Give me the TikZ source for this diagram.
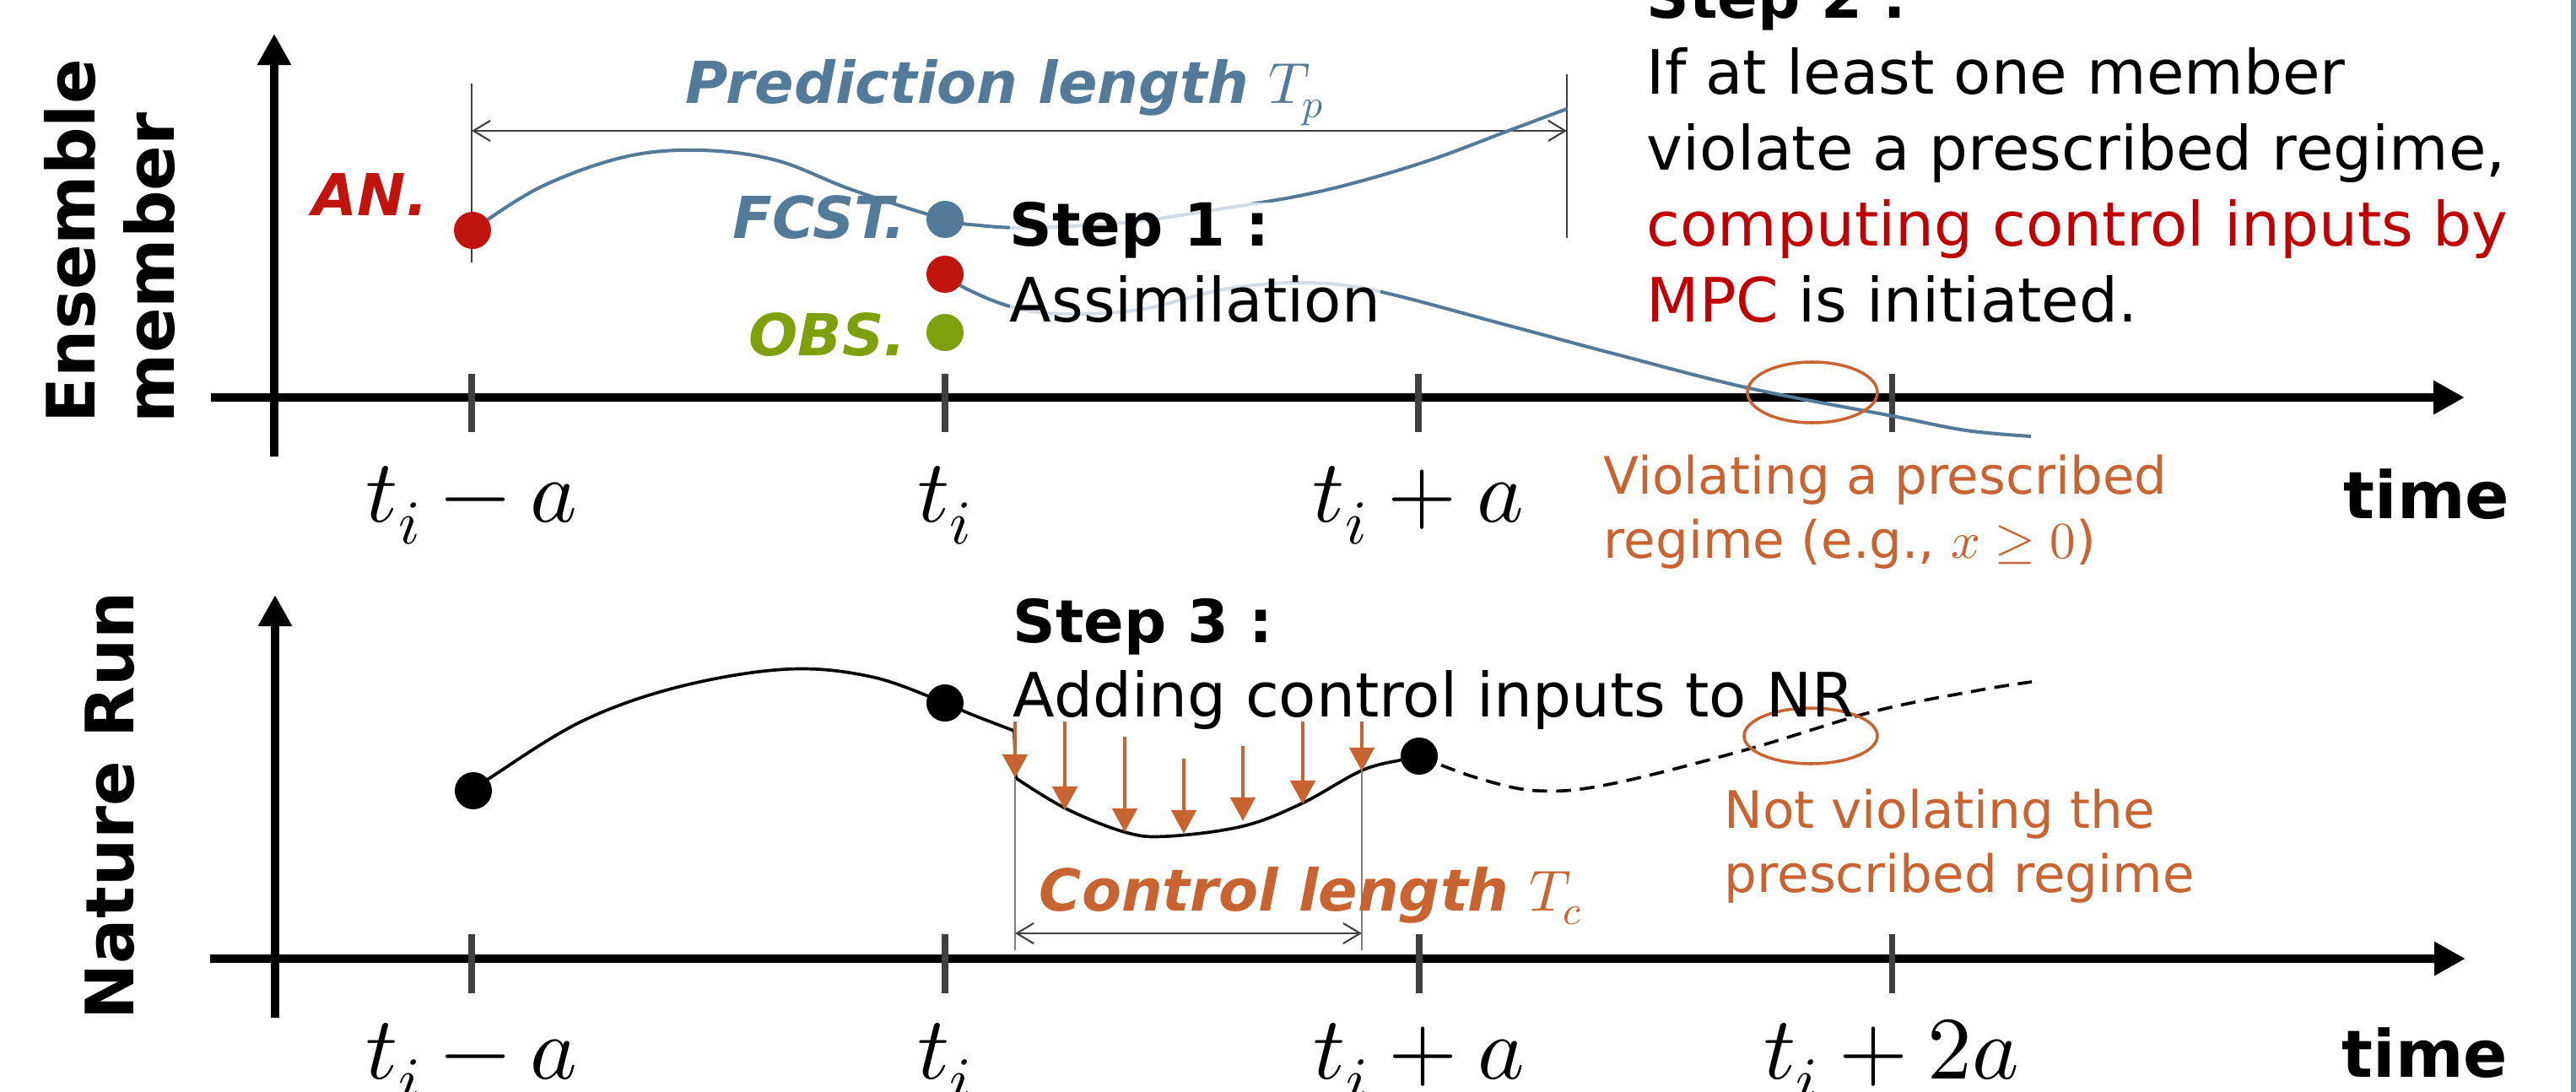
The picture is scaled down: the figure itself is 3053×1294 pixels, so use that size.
\documentclass[tikz,border=0pt]{standalone}
\usepackage{fontspec}
\usepackage{unicode-math}
\setmainfont{DejaVu Sans}
\setmathfont{Latin Modern Math}
\usetikzlibrary{arrows.meta}
\definecolor{fblue}{RGB}{84,122,153}
\definecolor{anred}{RGB}{192,20,15}
\definecolor{txtred}{RGB}{192,0,0}
\definecolor{obsgreen}{RGB}{127,160,10}
\definecolor{orng}{RGB}{200,100,50}
\definecolor{edgecol}{RGB}{102,153,153}
\definecolor{tickgray}{RGB}{64,64,64}
\newcommand\fsBody{\fontsize{20.6pt}{24pt}\selectfont}
\newcommand\fsBold{\fontsize{20pt}{24pt}\selectfont\bfseries}
\newcommand\fsSmall{\fontsize{17.4pt}{21pt}\selectfont}
\newcommand\fsLab{\fontsize{19.5pt}{23pt}\selectfont\bfseries\itshape}
\newcommand\fsAxis{\fontsize{22.5pt}{27pt}\selectfont\bfseries}
\newcommand\fsTime{\fontsize{22pt}{27pt}\selectfont\bfseries}
\newcommand\fsMath{\fontsize{30pt}{36pt}\selectfont}
\begin{document}
\begin{tikzpicture}[x=0.01cm,y=-0.01cm,
  txt/.style={anchor=base west,inner sep=0pt,font=\fsBody},
  boldtxt/.style={anchor=base west,inner sep=0pt,font=\fsBold},
  smalltxt/.style={anchor=base west,inner sep=0pt,font=\fsSmall,text=orng},
  lab/.style={anchor=base west,inner sep=0pt,font=\fsLab},
  ylab/.style={anchor=base west,inner sep=0pt,font=\fsAxis,rotate=90},
  timelab/.style={anchor=base west,inner sep=0pt,font=\fsTime},
  ticklab/.style={anchor=base,inner sep=0pt,font=\fsMath},
  halo/.style={fill=white,fill opacity=0.75,text opacity=1},
  axisline/.style={line width=2.85pt,-{Triangle[length=0.37cm,width=0.38cm]}},
  tickln/.style={line width=2pt,draw=tickgray},
  dimline/.style={line width=0.6pt,draw=tickgray,{Straight Barb[length=0.2cm,width=0.24cm]}-{Straight Barb[length=0.2cm,width=0.24cm]}},
  thinln/.style={line width=0.5pt,draw=tickgray},
  thinln2/.style={line width=0.45pt,draw=gray},
  bluecurve/.style={line width=1.15pt,draw=fblue},
  blkcurve/.style={line width=1.05pt,draw=black},
  ctrlarrow/.style={line width=1.4pt,draw=orng,-{Triangle[length=0.28cm,width=0.29cm]}},
  ring/.style={line width=1pt,draw=orng},
  dot/.style={circle,inner sep=0pt,minimum size=0.44cm}]
\useasboundingbox (0,0) rectangle (3053,1294);
% right edge band
\fill[edgecol] (3047,0) rectangle (3053,1294);

% ---------- coordinates of points ----------
\coordinate (pAN) at (560,273);
\coordinate (pFC) at (1120,260);
\coordinate (pRD) at (1120,325);
\coordinate (pOB) at (1120,394);
\coordinate (pN1) at (561,937);
\coordinate (pN2) at (1120,833);
\coordinate (pN3) at (1682,896);

% ---------- top panel axes ----------
\coordinate (yA0) at (325,541); \coordinate (yA1) at (325,40);
\coordinate (xA0) at (250,471); \coordinate (xA1) at (2921,471);
\draw[axisline] (yA0) -- (yA1);
\draw[axisline] (xA0) -- (xA1);
\foreach \tx [count=\k] in {559,1120,1681,2242}{
  \coordinate (tt\k a) at (\tx,443); \coordinate (tt\k b) at (\tx,512);
  \draw[tickln] (tt\k a) -- (tt\k b);
}
\node[ticklab] (tl1) at (559,618) {$t_i - a$};
\node[ticklab] (tl2) at (1120,618) {$t_i$};
\node[ticklab] (tl3) at (1681,618) {$t_i + a$};
\node[timelab] (time1) at (2777,614) {time};

% y labels
\node[ylab] (ens) at (112,502) {Ensemble};
\node[ylab] (mem) at (206,502) {member};

% prediction length
\coordinate (pl0) at (559,99); \coordinate (pl1) at (559,311);
\coordinate (pr0) at (1857,88); \coordinate (pr1) at (1857,282);
\draw[thinln] (pl0) -- (pl1);
\draw[thinln] (pr0) -- (pr1);
\coordinate (pa0) at (559,155); \coordinate (pa1) at (1857,155);
\draw[dimline] (pa0) -- (pa1);
\node[lab,text=fblue] (predlab) at (812,123) {Prediction length \mdseries\upshape$T_p$};

% blue curves
\draw[bluecurve] plot[smooth,tension=0.6] coordinates {(pAN) (640,222) (740,186) (830,178) (920,190) (1010,225) (pFC) (1160,267) (1210,270) (1267,268) (1350,262) (1450,247) (1540,232) (1615,214) (1700,188) (1785,156) (1857,129)};
\draw[bluecurve] plot[smooth,tension=0.6] coordinates {(pRD) (1145,342) (1197,363) (1257,372) (1350,367) (1450,343) (1540,335) (1628,344) (1785,385) (1916,420) (2073,460) (2243,493) (2330,510) (2407,517)};

% violation ring (top)
\draw[ring] (2148,465) ellipse [x radius=77, y radius=36];

% step 1 text
\node[boldtxt,halo] (s1) at (1196,292) {Step 1 :};
\node[txt,halo] (s1b) at (1196,382) {Assimilation};

% dots top
\node[dot,fill=anred] (an) at (pAN) {};
\node[dot,fill=fblue] (fc) at (pFC) {};
\node[dot,fill=anred] (rd) at (pRD) {};
\node[dot,fill=obsgreen] (ob) at (pOB) {};
\node[lab,text=anred] (anlab) at (370,255) {AN.};
\node[lab,text=fblue] (fclab) at (868,283) {FCST.};
\node[lab,text=obsgreen] (oblab) at (887,422) {OBS.};

% step 2 text
\node[boldtxt] (s2) at (1951,22) {Step 2 :};
\node[txt] (s2a) at (1951,112) {If at least one member};
\node[txt] (s2b) at (1951,202) {violate a prescribed regime,};
\node[txt,text=txtred] (s2c) at (1951,292) {computing control inputs by};
\node[txt] (s2d) at (1951,382) {\textcolor{txtred}{MPC} is initiated.};

% violating text
\node[smalltxt] (v1) at (1900,585) {Violating a prescribed};
\node[smalltxt] (v2) at (1900,661) {regime (e.g., $x \geq 0$)};

% ---------- bottom panel ----------
\coordinate (yB0) at (326,1206); \coordinate (yB1) at (326,705);
\coordinate (xB0) at (249,1136); \coordinate (xB1) at (2922,1136);
\draw[axisline] (yB0) -- (yB1);
\draw[axisline] (xB0) -- (xB1);
\foreach \tx [count=\k] in {559,1120,1682,2242}{
  \coordinate (tb\k a) at (\tx,1107); \coordinate (tb\k b) at (\tx,1177);
  \draw[tickln] (tb\k a) -- (tb\k b);
}
\node[ticklab] (bl1) at (559,1278) {$t_i - a$};
\node[ticklab] (bl2) at (1120,1278) {$t_i$};
\node[ticklab] (bl3) at (1682,1278) {$t_i + a$};
\node[ticklab] (bl4) at (2242,1278) {$t_i + 2a$};
\node[timelab] (time2) at (2775,1276) {time};
\node[ylab] (nr) at (158,1209) {Nature Run};

% nature run curve
\coordinate (kink0) at (1202,866); \coordinate (kink1) at (1204,922);
\draw[blkcurve] plot[smooth,tension=0.6] coordinates {(pN1) (582,921) (689,855) (804,814) (932,793) (1033,802) (pN2) (1150,846) (kink0)} -- (kink1);
\draw[blkcurve] plot[smooth,tension=0.6] coordinates {(kink1) (1263,958) (1333,986) (1383,991) (1473,979) (1543,952) (1614,913) (1663,900) (pN3)};
\draw[blkcurve,dash pattern=on 5pt off 3pt] plot[smooth,tension=0.6] coordinates {(pN3) (1748,921) (1822,937) (1909,929) (2071,888) (2221,843) (2345,818) (2408,808)};

% control arrows
\foreach \ax/\ay/\by [count=\k] in {1203/855/922, 1262/855/960, 1333/873/986, 1403/899/988, 1473/884/973, 1544/855/953, 1614/855/914}{
  \coordinate (ca\k) at (\ax,\ay); \coordinate (cb\k) at (\ax,\by);
  \draw[ctrlarrow] (ca\k) -- (cb\k);
}

% control length
\coordinate (cl0) at (1203,922); \coordinate (cl1) at (1203,1126);
\coordinate (cr0) at (1614,913); \coordinate (cr1) at (1614,1126);
\draw[thinln2] (cl0) -- (cl1);
\draw[thinln2] (cr0) -- (cr1);
\coordinate (ca0) at (1203,1106); \coordinate (ca9) at (1614,1106);
\draw[dimline] (ca0) -- (ca9);
\node[lab,text=orng] (ctrllab) at (1231,1079) {Control length \mdseries\upshape$T_c$};

% ring bottom
\draw[ring] (2146,872) ellipse [x radius=79, y radius=33];

% dots bottom
\node[dot,fill=black] (n1) at (pN1) {};
\node[dot,fill=black] (n2) at (pN2) {};
\node[dot,fill=black] (n3) at (pN3) {};

% step 3 text
\node[boldtxt] (s3) at (1200,761) {Step 3 :};
\node[txt] (s3a) at (1200,849) {Adding control inputs to NR};

% not violating text
\node[smalltxt] (nv1) at (2043,981) {Not violating the};
\node[smalltxt] (nv2) at (2043,1057) {prescribed regime};
\end{tikzpicture}
\end{document}
